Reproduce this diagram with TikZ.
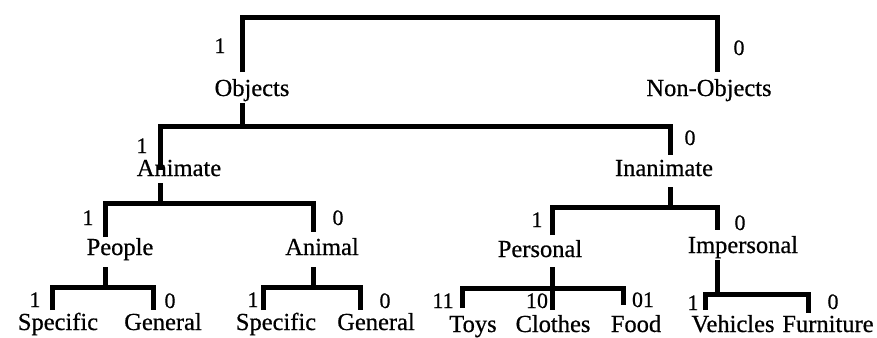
\documentclass[tikz,border=0pt]{standalone}
\usepackage{fontspec}
\setmainfont[FakeBold=0.6]{Liberation Serif}
\begin{document}
\begin{tikzpicture}[x=1pt,y=-1pt,
  branch/.style={line width=5pt,line join=miter},
  term/.style={anchor=base,inner sep=0pt,font=\fontsize{24.5}{26}\selectfont},
  bit/.style={anchor=base,inner sep=0pt,font=\fontsize{22}{24}\selectfont}]
\useasboundingbox (0,0) rectangle (877,337);

% ---- category names ----
\node[term] (objects)    at (252,96)  {Objects};
\node[term] (nonobjects) at (709,96)  {Non-Objects};
\node[term] (animate)    at (179,176) {Animate};
\node[term] (inanimate)  at (664,176) {Inanimate};
\node[term] (people)     at (120,255) {People};
\node[term] (animal)     at (322,255) {Animal};
\node[term] (personal)   at (540,257) {Personal};
\node[term] (impersonal) at (743,253) {Impersonal};
\node[term] (specA)      at (58,330)  {Specific};
\node[term] (genA)       at (163,330) {General};
\node[term] (specB)      at (276,330) {Specific};
\node[term] (genB)       at (376,330) {General};
\node[term] (toys)       at (473,332) {Toys};
\node[term] (clothes)    at (553,332) {Clothes};
\node[term] (food)       at (636,332) {Food};
\node[term] (vehicles)   at (733,332) {Vehicles};
\node[term] (furniture)  at (828,332) {Furniture};

% ---- branch codes ----
\node[bit] (cObj)  at (220,53)  {1};
\node[bit] (cNon)  at (739,55)  {0};
\node[bit] (cAni)  at (142,153) {1};
\node[bit] (cIna)  at (690,145) {0};
\node[bit] (cPeo)  at (88,225)  {1};
\node[bit] (cAnl)  at (338,225) {0};
\node[bit] (cPer)  at (537,227) {1};
\node[bit] (cImp)  at (740,230) {0};
\node[bit] (cSpA)  at (35,307)  {1};
\node[bit] (cGeA)  at (170,308) {0};
\node[bit] (cSpB)  at (253,307) {1};
\node[bit] (cGeB)  at (385,308) {0};
\node[bit] (cToy)  at (443,308) {11};
\node[bit] (cClo)  at (537,308) {10};
\node[bit] (cFoo)  at (643,307) {01};
\node[bit] (cVeh)  at (693,310) {1};
\node[bit] (cFur)  at (833,309) {0};

% ---- junctions and branch tips ----
\coordinate (jRoot) at (480,18);
\coordinate (tObj)  at (242,72);
\coordinate (tNon)  at (717,72);

\coordinate (sObj)  at (242,103);
\coordinate (jObj)  at (242,126);
\coordinate (tAni)  at (160,170);
\coordinate (tIna)  at (670,155);

\coordinate (sAni)  at (160,183);
\coordinate (jAni)  at (160,203);
\coordinate (tPeo)  at (105,237);
\coordinate (tAnl)  at (313,232);

\coordinate (sIna)  at (670,187);
\coordinate (jIna)  at (670,207);
\coordinate (tPer)  at (552,235);
\coordinate (tImp)  at (717,230);

\coordinate (sPeo)  at (105,267);
\coordinate (jPeo)  at (105,287);
\coordinate (tSpA)  at (52,310);
\coordinate (tGeA)  at (153,310);

\coordinate (sAnl)  at (313,267);
\coordinate (jAnl)  at (313,287);
\coordinate (tSpB)  at (263,310);
\coordinate (tGeB)  at (360,310);

\coordinate (sPer)  at (552,267);
\coordinate (jPer)  at (552,288);
\coordinate (tToy)  at (462,308);
\coordinate (tClo)  at (552,310);
\coordinate (tFoo)  at (623,305);

\coordinate (sImp)  at (717,260);
\coordinate (jImp)  at (717,294);
\coordinate (tVeh)  at (705,310);
\coordinate (tFur)  at (808,313);

% ---- brackets ----
\draw[branch] (tObj) |- (jRoot) -| (tNon);

\draw[branch] (sObj) -- (jObj);
\draw[branch] (tAni) |- (jObj) -| (tIna);

\draw[branch] (sAni) -- (jAni);
\draw[branch] (tPeo) |- (jAni) -| (tAnl);

\draw[branch] (sIna) -- (jIna);
\draw[branch] (tPer) |- (jIna) -| (tImp);

\draw[branch] (sPeo) -- (jPeo);
\draw[branch] (tSpA) |- (jPeo) -| (tGeA);

\draw[branch] (sAnl) -- (jAnl);
\draw[branch] (tSpB) |- (jAnl) -| (tGeB);

\draw[branch] (sPer) -- (tClo);
\draw[branch] (tToy) |- (jPer) -| (tFoo);

\draw[branch] (sImp) -- (jImp);
\draw[branch] (tVeh) |- (jImp) -| (tFur);
\end{tikzpicture}
\end{document}
